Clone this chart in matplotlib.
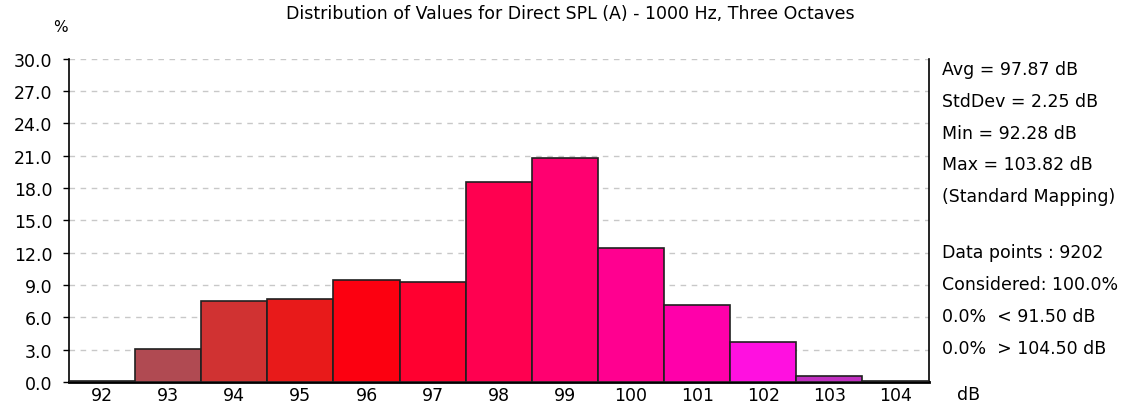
import matplotlib
matplotlib.use("Agg")
import matplotlib.pyplot as plt

# histogram bins (dB) and share of data points (%)
bins = [92, 93, 94, 95, 96, 97, 98, 99, 100, 101, 102, 103, 104]
percent = [0.1, 3.1, 7.5, 7.7, 9.5, 9.3, 18.6, 20.8, 12.4, 7.15, 3.7, 0.55, 0.1]
colors = ["#202020", "#b04a52", "#d03232", "#e81a1a", "#fc0010", "#ff0030",
          "#ff0050", "#ff0070", "#ff0090", "#ff00aa", "#ff10e0", "#c030c0", "#101010"]

stats_top = ["Avg = 97.87 dB", "StdDev = 2.25 dB", "Min = 92.28 dB",
             "Max = 103.82 dB", "(Standard Mapping)"]
stats_bottom = ["Data points : 9202", "Considered: 100.0%",
                "0.0%  < 91.50 dB", "0.0%  > 104.50 dB"]

plt.rcParams["font.family"] = ["DejaVu Sans"]
fs = 12.5

fig = plt.figure(figsize=(11.31, 4.10), dpi=100)
ax = fig.add_axes([0.061, 0.066, 0.760, 0.788])

ax.bar(bins, percent, width=1.0, color=colors, edgecolor="#202020",
       linewidth=1.2, zorder=3)

ax.set_xlim(91.5, 104.5)
ax.set_ylim(0, 30)
ax.set_yticks([i * 3 for i in range(11)])
ax.set_yticklabels([f"{i * 3:.1f}" for i in range(11)], fontsize=fs)
ax.set_xticks(bins)
ax.set_xticklabels([str(b) for b in bins], fontsize=fs)
ax.tick_params(axis="y", length=4, width=1, pad=8)
ax.tick_params(axis="x", length=0, pad=3)

ax.yaxis.grid(True, linestyle=(0, (4, 4)), color="#c8c8c8", linewidth=1, zorder=0)
ax.spines["top"].set_visible(False)
for s in ["left", "right", "bottom"]:
    ax.spines[s].set_color("black")
ax.spines["left"].set_linewidth(1.2)
ax.spines["right"].set_linewidth(1.2)
ax.spines["bottom"].set_linewidth(2)

fig.text(0.504, 0.965, "Distribution of Values for Direct SPL (A) - 1000 Hz, Three Octaves",
         ha="center", va="center", fontsize=fs)
fig.text(0.053, 0.932, "%", ha="center", va="center", fontsize=11)
fig.text(0.856, 0.036, "dB", ha="center", va="center", fontsize=fs)

x0 = 0.833
for i, line in enumerate(stats_top):
    fig.text(x0, (410 - 70 - i * 31.8) / 410, line, ha="left", va="center", fontsize=fs)
for i, line in enumerate(stats_bottom):
    fig.text(x0, (410 - 253 - i * 32) / 410, line, ha="left", va="center", fontsize=fs)

fig.savefig("out.png", dpi=100)
